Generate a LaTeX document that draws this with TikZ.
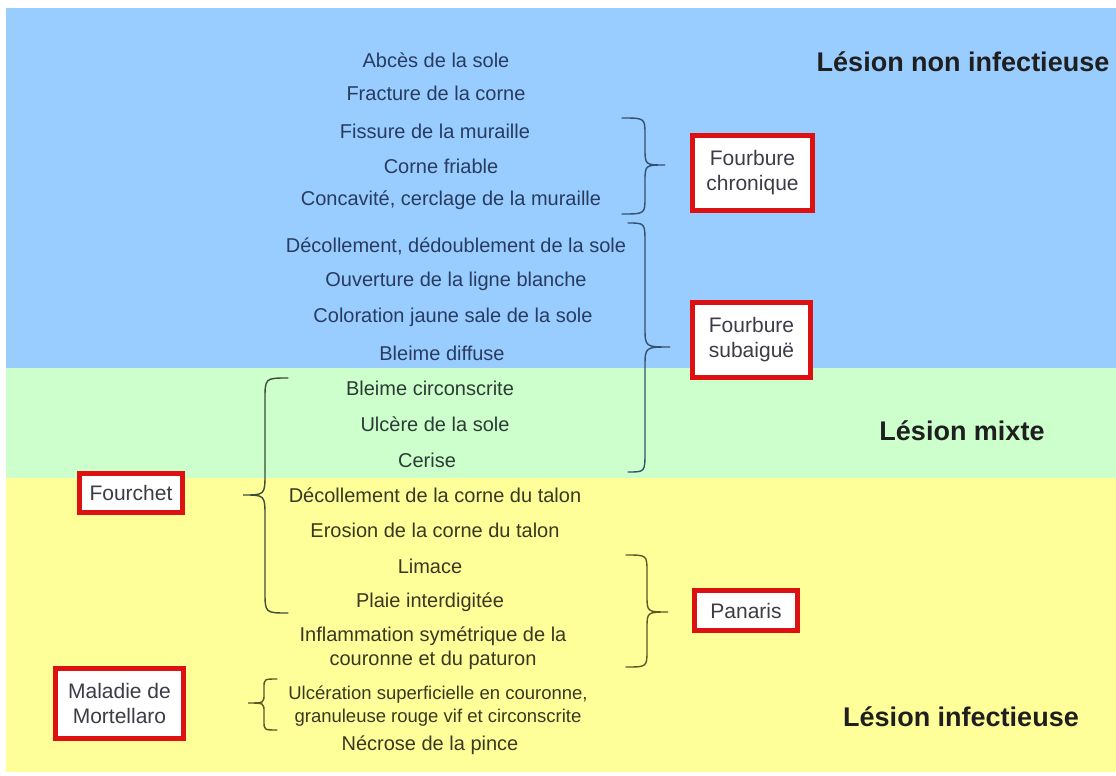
\documentclass[tikz,border=0pt]{standalone}
\usepackage{fontspec}
\setmainfont{Liberation Sans}
\definecolor{bgblue}{HTML}{99CCFF}
\definecolor{bggreen}{HTML}{CCFFCC}
\definecolor{bgyellow}{HTML}{FFFF99}
\definecolor{txtblue}{HTML}{283C60}
\definecolor{txtgreen}{HTML}{2C3C34}
\definecolor{txtyellow}{HTML}{3A3820}
\definecolor{boxred}{HTML}{DD1111}
\definecolor{boxtext}{HTML}{3C3C48}
\definecolor{brblue}{HTML}{34506E}
\definecolor{brgreen}{HTML}{3E4C38}
\definecolor{bryellow}{HTML}{5C5628}
\newcommand\mybracepath[7]{(#1,#4) .. controls (#2,#4) .. (#2,#4+#7) -- (#2,#5-#7) .. controls (#2,#5) .. (#3,#5) .. controls (#2,#5) .. (#2,#5+#7) -- (#2,#6-#7) .. controls (#2,#6) .. (#1,#6)}
\begin{document}
\begin{tikzpicture}[x=1pt,y=-1pt,
  item/.style={font=\fontsize{20}{23.5}\selectfont, inner sep=0pt, anchor=center, align=center},
  itemb/.style={item, text=txtblue},
  itemg/.style={item, text=txtgreen},
  itemy/.style={item, text=txtyellow},
  header/.style={font=\fontsize{27}{30}\selectfont\bfseries, inner sep=0pt, text=black!88},
  redbox/.style={draw=boxred, line width=5pt, fill=white, align=center, inner sep=2pt,
     font=\fontsize{21}{25}\selectfont, text=boxtext},
  bracel/.style={line width=1.4pt, line cap=round}]
\useasboundingbox (0,0) rectangle (1116,776);
\fill[white] (0,0) rectangle (1116,776);
\fill[bgblue] (6,8) rectangle (1116,368);
\fill[bggreen] (6,368) rectangle (1116,478);
\fill[bgyellow] (6,478) rectangle (1116,772);

% headers
\node[header] (h1) at (963,62) {Lésion non infectieuse};
\node[header] (h2) at (962,431) {Lésion mixte};
\node[header] (h3) at (961,717) {Lésion infectieuse};

% items
\node[itemb] (t1) at (436,60) {Abcès de la sole};
\node[itemb] (t2) at (436,93) {Fracture de la corne};
\node[itemb] (t3) at (435,131) {Fissure de la muraille};
\node[itemb] (t4) at (441,166) {Corne friable};
\node[itemb] (t5) at (451,200) {Concavité, cerclage de la muraille};
\node[itemb] (t6) at (456,246) {Décollement, dédoublement de la sole};
\node[itemb] (t7) at (456,281) {Ouverture de la ligne blanche};
\node[itemb] (t8) at (453,317) {Coloration jaune sale de la sole};
\node[itemb] (t9) at (442,353) {Bleime diffuse};
\node[itemg] (t10) at (430,388) {Bleime circonscrite};
\node[itemg] (t11) at (435,424) {Ulcère de la sole};
\node[itemg] (t12) at (427,460) {Cerise};
\node[itemy] (t13) at (435,495) {Décollement de la corne du talon};
\node[itemy] (t14) at (435,530) {Erosion de la corne du talon};
\node[itemy] (t15) at (430,566) {Limace};
\node[itemy] (t16) at (430,602) {Plaie interdigitée};
\node[itemy] (t17) at (433,648) {Inflammation symétrique de la\\couronne et du paturon};
\node[itemy, font=\fontsize{18.5}{23.5}\selectfont] (t18) at (438,706) {Ulcération superficielle en couronne,\\granuleuse rouge vif et circonscrite};
\node[itemy] (t19) at (430,745) {Nécrose de la pince};

% boxes
\node[redbox, minimum width=120pt, minimum height=75pt] (fc) at (752.5,173) {Fourbure\\chronique};
\node[redbox, minimum width=118pt, minimum height=75pt] (fs) at (751.5,340) {Fourbure\\subaiguë};
\node[redbox, minimum width=103pt, minimum height=39pt] (fo) at (131,493) {Fourchet};
\node[redbox, minimum width=103pt, minimum height=40pt] (pa) at (746,610.5) {Panaris};
\node[redbox, minimum width=128pt, minimum height=70pt] (mm) at (119.5,703.5) {Maladie de\\Mortellaro};

% braces
\draw[bracel, brblue] \mybracepath{622}{645}{665}{118}{165}{214}{17};
\draw[bracel, brblue] \mybracepath{628}{645}{670}{223}{347}{472}{20};
\draw[bracel, brgreen] \mybracepath{288}{265}{243}{378}{495}{613}{22};
\draw[bracel, bryellow] \mybracepath{626}{647}{668}{555}{612}{667}{17};
\draw[bracel, bryellow] \mybracepath{277}{264}{248}{679}{703}{730}{9};
\end{tikzpicture}
\end{document}
